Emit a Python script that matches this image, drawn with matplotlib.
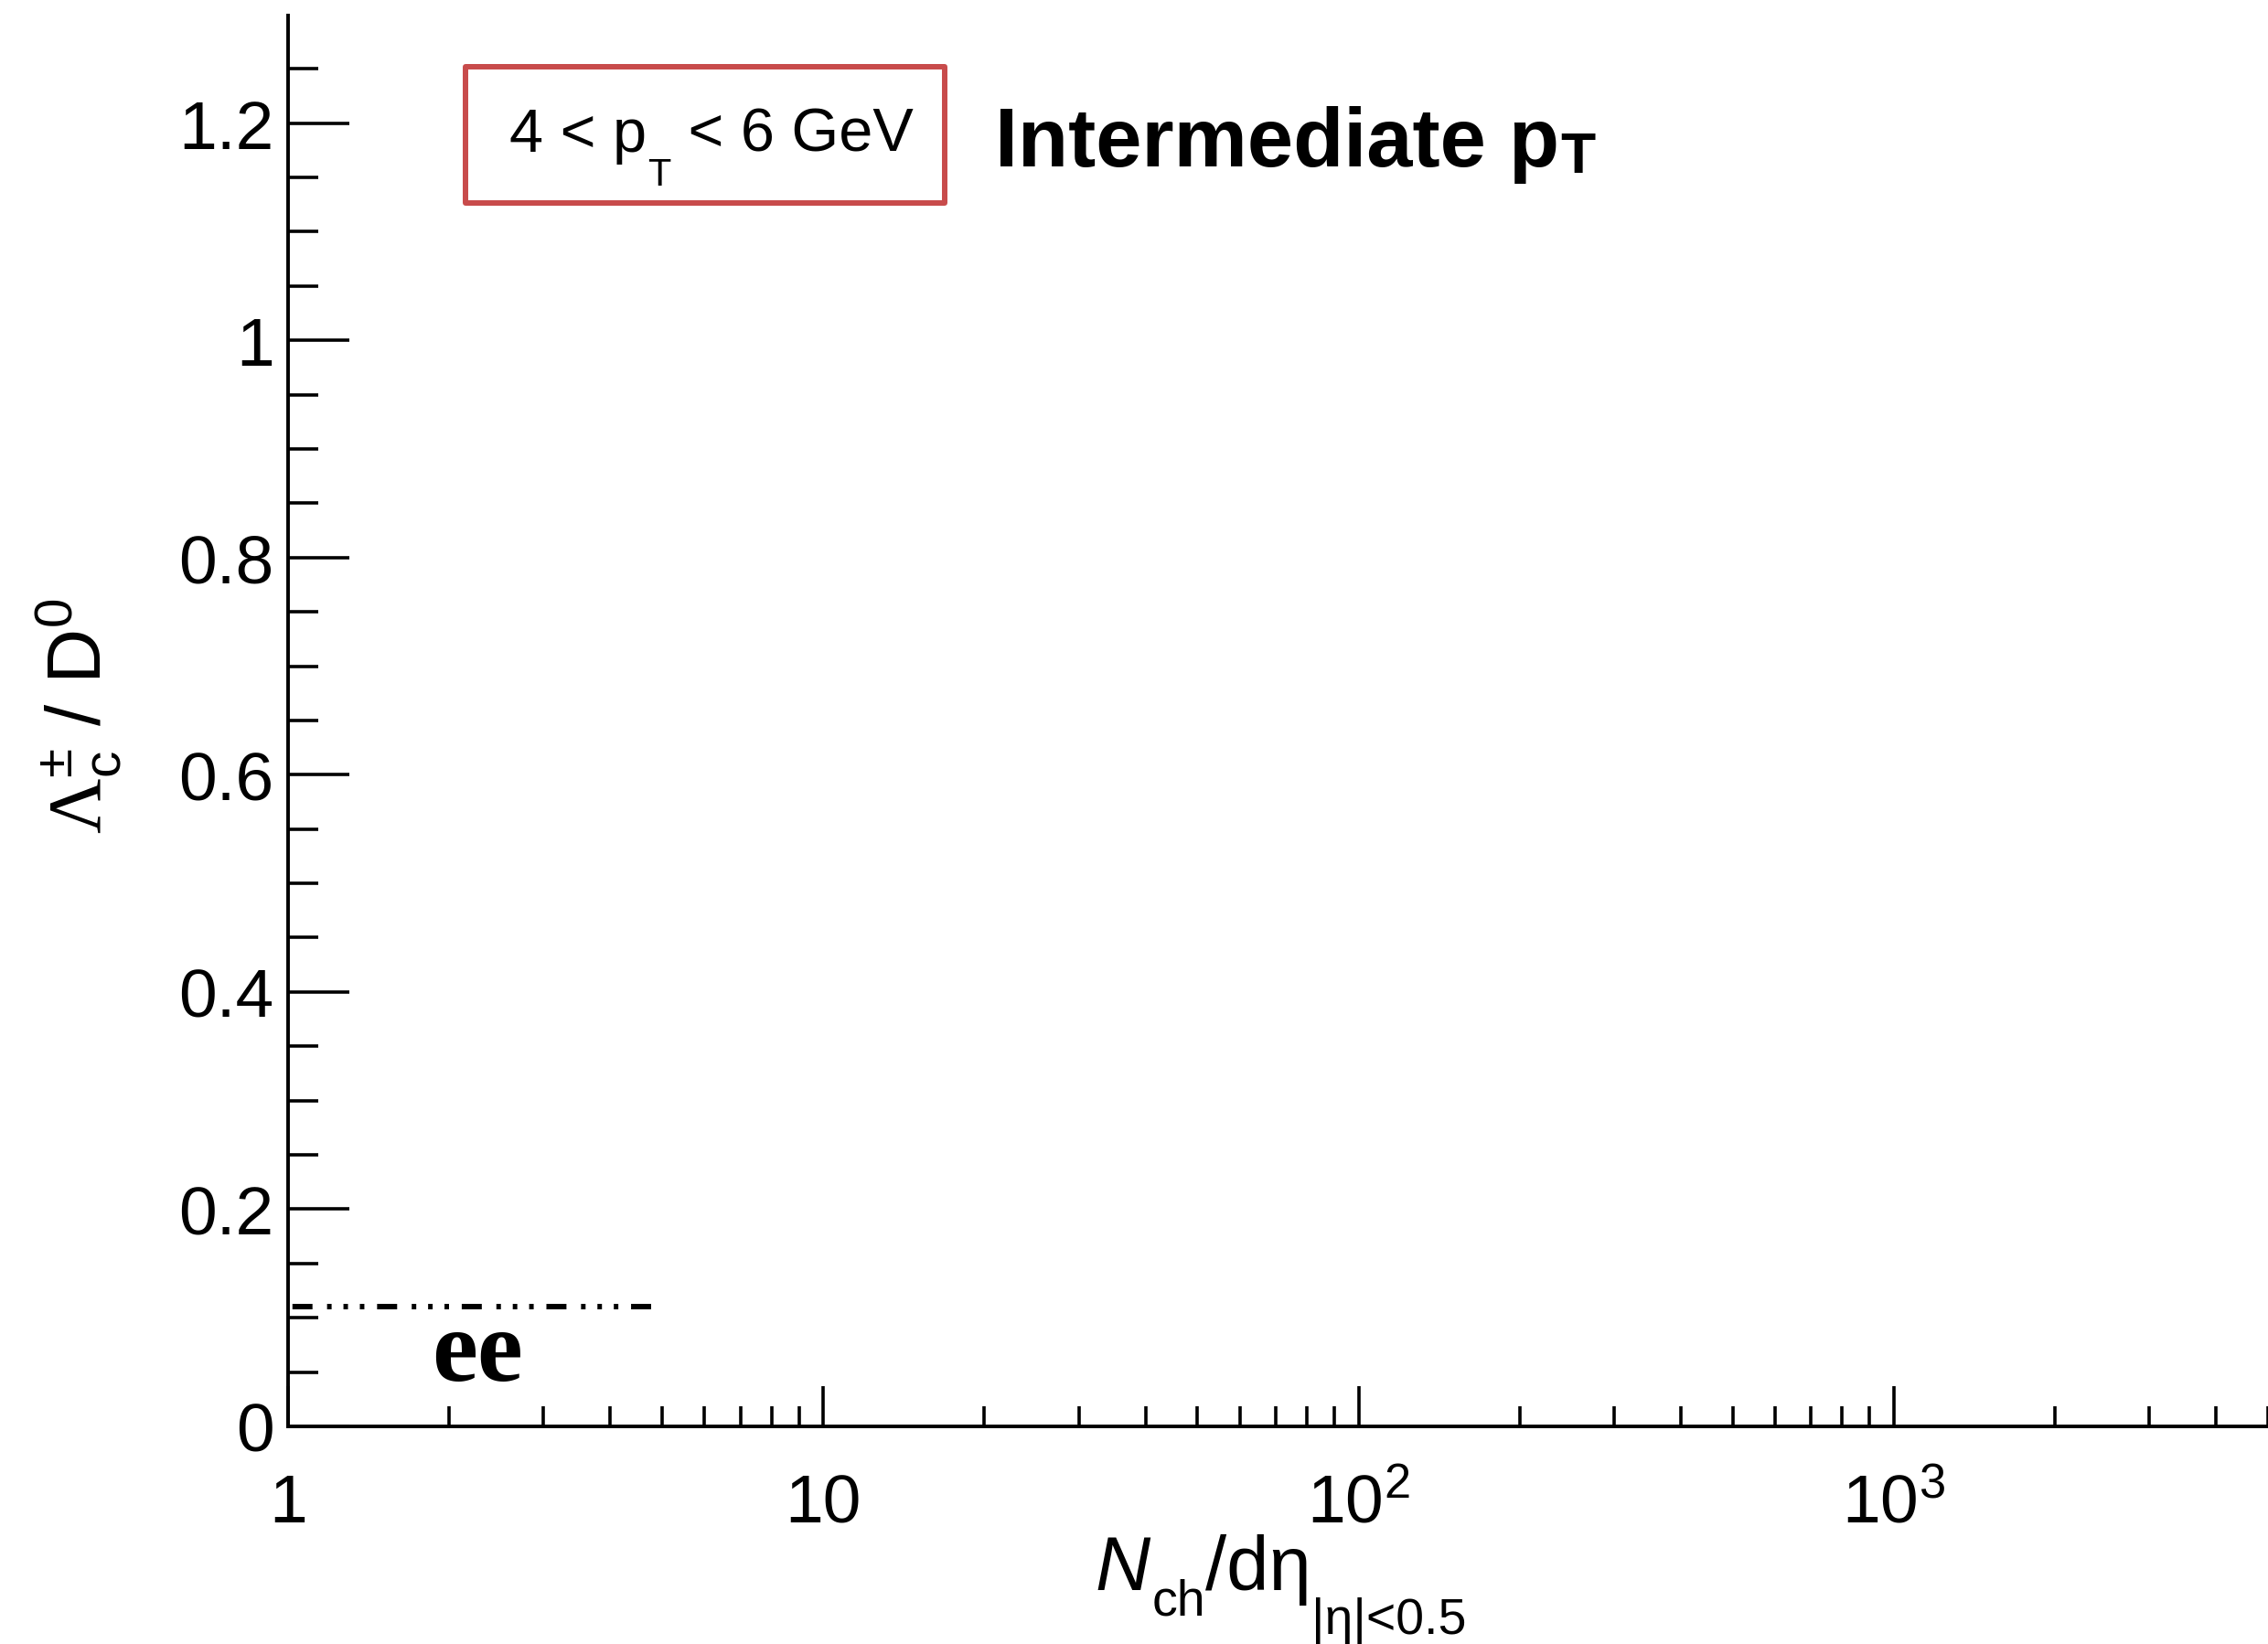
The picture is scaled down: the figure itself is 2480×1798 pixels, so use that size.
import numpy as np
import matplotlib
matplotlib.use('Agg')
import matplotlib.pyplot as plt
from matplotlib.ticker import MultipleLocator, LogLocator, NullFormatter
from matplotlib.patches import Rectangle

# e+e- reference level of Lambda_c / D0
ee_x = [1.0, 4.8]
ee_y = [0.11, 0.11]

y_ticks = [0, 0.2, 0.4, 0.6, 0.8, 1.0, 1.2]
y_ticklabels = ['0', '0.2', '0.4', '0.6', '0.8', '1', '1.2']
x_ticks = [1, 10, 100, 1000]
x_ticklabels = ['1', '10', r'$\mathregular{10^{2}}$', r'$\mathregular{10^{3}}$']

plt.rcParams['font.family'] = ['Liberation Sans', 'DejaVu Sans']
plt.rcParams['mathtext.fontset'] = 'custom'
plt.rcParams['mathtext.rm'] = 'Liberation Sans'
plt.rcParams['mathtext.it'] = 'Liberation Sans:italic'
plt.rcParams['mathtext.bf'] = 'Liberation Sans:bold'
plt.rcParams['mathtext.sf'] = 'Liberation Serif'

W, H = 2480, 1799
fig = plt.figure(figsize=(W / 100, H / 100), dpi=100)
# axes frame: x axis at y=1561 px, y axis at x=315 px
ax = fig.add_axes([315 / W, 1 - 1561 / H, 1 - 315 / W, (1561 - 18) / H])

ax.set_xscale('log')
ax.set_xlim(1, 5000)
ax.set_ylim(0, 1.299)

for s in ['top', 'right']:
    ax.spines[s].set_visible(False)
for s in ['left', 'bottom']:
    ax.spines[s].set_linewidth(2.8)

# ee line (dash + 3 dots, ROOT style)
ax.plot(ee_x, ee_y, color='black', lw=4.3,
        linestyle=(14.7, (3.67, 2.67, 0.83, 2.17, 0.83, 2.17, 0.83, 2.33)))
ax.text(2.26, 0.043, 'ee', fontsize=81, family='Liberation Serif',
        fontweight='bold', ha='center', va='baseline')

# ticks
ax.set_yticks(y_ticks)
ax.set_yticklabels(y_ticklabels)
ax.yaxis.set_minor_locator(MultipleLocator(0.05))
ax.set_xticks(x_ticks)
ax.set_xticklabels(x_ticklabels)
ax.xaxis.set_minor_locator(LogLocator(base=10, subs=np.arange(2, 10), numticks=20))
ax.xaxis.set_minor_formatter(NullFormatter())

ax.tick_params(axis='y', which='major', direction='in', length=48, width=2.6, labelsize=54, pad=11)
ax.tick_params(axis='y', which='minor', direction='in', length=24, width=2.6)
ax.tick_params(axis='x', which='major', direction='in', length=32, width=2.6, labelsize=54, pad=75)
ax.tick_params(axis='x', which='minor', direction='in', length=16, width=2.6)
for t in ax.xaxis.get_major_ticks():
    t.label1.set_verticalalignment('baseline')

# x axis title, built from pieces (ROOT puts the |eta| subscript lower)
xb = -0.1154
n1 = ax.text(0.4074, xb, r'$\mathit{N}$', transform=ax.transAxes, fontsize=60,
             ha='left', va='baseline')
n2 = ax.annotate('ch', xy=(1, xb), xycoords=(n1, 'axes fraction'),
                 xytext=(0, -19.4), textcoords='offset points',
                 fontsize=40, ha='left', va='baseline')
n3 = ax.annotate('/d\u03b7', xy=(1, xb), xycoords=(n2, 'axes fraction'),
                 fontsize=60, ha='left', va='baseline')
ax.annotate('|\u03b7|<0.5', xy=(1, xb), xycoords=(n3, 'axes fraction'),
            xytext=(0, -34.5), textcoords='offset points',
            fontsize=40, ha='left', va='baseline')

ax.set_ylabel(r'$\mathsf{\Lambda}_{\mathrm{c}}^{\pm}\ /\ \mathrm{D}^{0}$', fontsize=60)
ax.yaxis.set_label_coords(-0.083, 0.504)

# pT range box
ax.add_patch(Rectangle((0.0896, 0.8671), 0.242, 0.0966, transform=ax.transAxes,
                       fill=False, edgecolor='#c84b4b', lw=4.3, joinstyle='round',
                       clip_on=False))
base1 = 0.9041
t1 = ax.text(0.1118, base1, '4 < p', transform=ax.transAxes, fontsize=48,
             ha='left', va='baseline')
t2 = ax.annotate('T', xy=(1, base1), xycoords=(t1, 'axes fraction'),
                 xytext=(1, -4.3), textcoords='offset points',
                 fontsize=30, ha='left', va='top')
ax.annotate(' < 6 GeV', xy=(1, base1), xycoords=(t2, 'axes fraction'),
            fontsize=48, ha='left', va='baseline')

# title
base2 = 0.8937
t4 = ax.text(0.357, base2, 'Intermediate p', transform=ax.transAxes, fontsize=65,
             fontweight='bold', ha='left', va='baseline')
ax.annotate('T', xy=(1, base2), xycoords=(t4, 'axes fraction'),
            xytext=(1, -5), textcoords='offset points',
            fontsize=45, fontweight='bold', ha='left', va='baseline')

fig.savefig('out.png', dpi=100)
